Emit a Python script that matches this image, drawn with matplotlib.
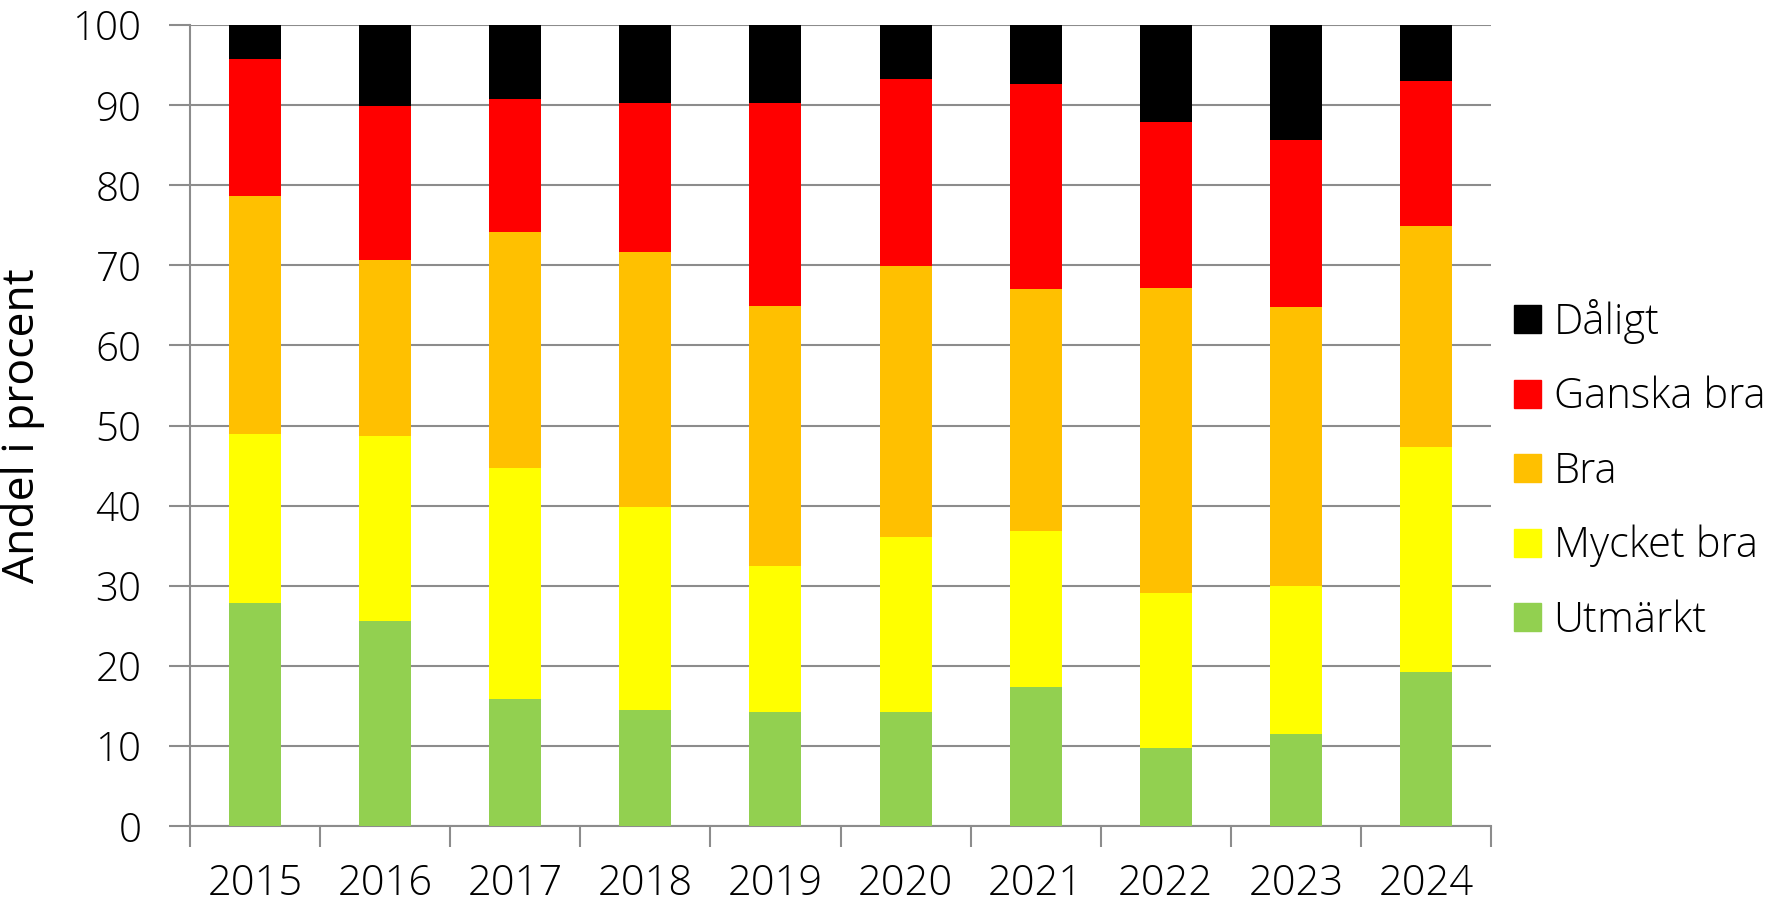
import numpy as np
import matplotlib.pyplot as plt
from matplotlib.patches import Patch

years = ["2015", "2016", "2017", "2018", "2019", "2020", "2021", "2022", "2023", "2024"]

# segment sizes (percent)
utmarkt = [27.8, 25.6, 15.9, 14.5, 14.2, 14.2, 17.3, 9.7, 11.5, 19.2]
mycket_bra = [21.2, 23.1, 28.8, 25.3, 18.3, 21.9, 19.5, 19.4, 18.5, 28.1]
bra = [29.7, 21.9, 29.4, 31.9, 32.4, 33.8, 30.2, 38.1, 34.8, 27.6]
ganska_bra = [17.0, 19.3, 16.7, 18.6, 25.3, 23.3, 25.6, 20.7, 20.9, 18.1]
daligt = [4.3, 10.1, 9.2, 9.7, 9.8, 6.8, 7.4, 12.1, 14.3, 7.0]

series = [
    ("Utmärkt", utmarkt, "#92d050"),
    ("Mycket bra", mycket_bra, "#ffff00"),
    ("Bra", bra, "#ffc000"),
    ("Ganska bra", ganska_bra, "#ff0000"),
    ("Dåligt", daligt, "#000000"),
]

plt.rcParams["font.family"] = ["Open Sans", "DejaVu Sans"]

fig = plt.figure(figsize=(17.85, 9.07), dpi=100)
ax = fig.add_axes([190 / 1785, 1 - 826 / 907, (1491 - 190) / 1785, (826 - 25) / 907])

x = np.arange(len(years))
bottom = np.zeros(len(years))
for name, vals, col in series:
    ax.bar(x, vals, bottom=bottom, width=0.4, color=col, zorder=3, label=name)
    bottom += np.array(vals)

ax.set_xlim(-0.5, len(years) - 0.5)
ax.set_ylim(0, 100)
ax.set_yticks(np.arange(0, 101, 10))
ax.grid(axis="y", color="#8c8c8c", linewidth=1.5, zorder=0)

# category boundaries as x tick marks, year labels in between
ax.set_xticks(np.arange(-0.5, len(years), 1.0))
ax.set_xticklabels([])
ax.set_xticks(x, minor=True)
ax.set_xticklabels(years, minor=True, fontsize=30, fontweight="light")
ax.tick_params(axis="x", which="major", length=15, width=1.5, color="#8c8c8c")
ax.tick_params(axis="x", which="minor", length=0, pad=26)
ax.tick_params(axis="y", length=15, width=1.5, color="#8c8c8c", labelsize=29, pad=20)
for lbl in ax.get_yticklabels():
    lbl.set_fontweight("light")

for side in ["top", "right"]:
    ax.spines[side].set_visible(False)
for side in ["left", "bottom"]:
    ax.spines[side].set_color("#8c8c8c")
    ax.spines[side].set_linewidth(1.5)

ax.set_ylabel("Andel i procent", fontsize=32, labelpad=20)

handles = [Patch(color=col, label=name) for name, vals, col in series[::-1]]
ax.legend(handles=handles, loc="center left", bbox_to_anchor=(1.0177, 0.444),
          frameon=False, borderpad=0, borderaxespad=0,
          handlelength=0.65, handleheight=0.65, handletextpad=0.3,
          labelspacing=0.77, prop={"weight": "light", "size": 30})

fig.savefig("out.png", dpi=100)
